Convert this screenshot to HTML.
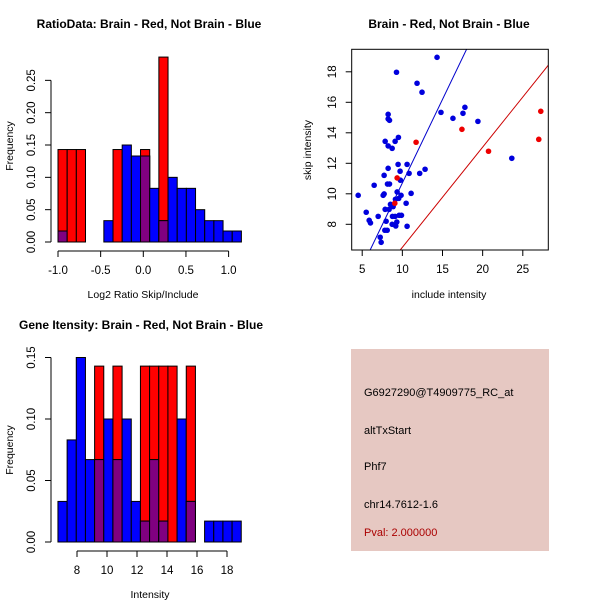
<!DOCTYPE html>
<html><head><meta charset="utf-8"><style>
body{margin:0;background:#fff}
svg{display:block;font-family:"Liberation Sans",sans-serif}
</style></head><body>
<svg id="c" width="600" height="600" viewBox="0 0 600 600">
<rect width="600" height="600" fill="#fff"/>
</svg>
<script>
// Panel 1: ratio histogram (20 bins starting at -1.0)
const ratioBinStart = -1.0, ratioBinWidth = 0.1075;
const ratioRed = [0.143,0.143,0.143,0,0,0,0.143,0,0,0.143,0,0.286,0,0,0,0,0,0,0,0];
const ratioBlue = [0.017,0,0,0,0,0.033,0,0.15,0.133,0.133,0.083,0.033,0.1,0.083,0.083,0.05,0.033,0.033,0.017,0.017];
const ratioXTicks = [-1.0,-0.5,0.0,0.5,1.0];
const ratioXLabels = ["-1.0","-0.5","0.0","0.5","1.0"];
const ratioYTicks = [0,0.05,0.1,0.15,0.2,0.25];
const ratioYLabels = ["0.00","0.05","0.10","0.15","0.20","0.25"];
// Panel 3: intensity histogram
const intBinStart = 6.73, intBinWidth = 0.611;
const intRed = [0,0,0,0,0.143,0,0.143,0,0,0.143,0.143,0.143,0.143,0,0.143,0,0,0,0,0];
const intBlue = [0.033,0.083,0.15,0.067,0.067,0.1,0.067,0.1,0.033,0.017,0.067,0.017,0,0.1,0.033,0,0.017,0.017,0.017,0.017];
const intXTicks = [8,10,12,14,16,18];
const intXLabels = ["8","10","12","14","16","18"];
const intYTicks = [0,0.05,0.1,0.15];
const intYLabels = ["0.00","0.05","0.10","0.15"];
// Panel 2: scatter
const blueX = [14.32,9.27,11.83,12.45,14.81,17.79,17.55,16.30,19.41,8.23,8.23,8.40,7.86,9.10,9.51,8.23,8.73,23.63,9.47,10.59,8.23,12.83,9.72,12.16,10.84,7.73,9.76,8.15,8.40,6.49,4.50,7.61,7.73,9.35,9.84,11.09,9.55,9.14,10.47,8.52,8.85,7.86,8.35,5.50,6.99,8.77,9.10,9.60,9.89,5.87,6.03,7.98,8.73,9.31,9.18,10.59,7.82,8.11,7.24,7.36];
const blueY = [18.95,17.97,17.25,16.66,15.34,15.67,15.28,14.95,14.75,15.21,14.91,14.82,13.44,13.44,13.70,13.14,12.98,12.33,11.93,11.93,11.67,11.61,11.48,11.34,11.34,11.21,10.89,10.64,10.64,10.56,9.90,9.90,9.99,10.12,9.90,10.03,9.70,9.64,9.38,9.31,9.16,8.98,8.98,8.79,8.52,8.52,8.52,8.59,8.59,8.26,8.09,8.20,8.00,8.15,7.89,7.87,7.61,7.61,7.15,6.82];
const redX = [11.71,17.42,20.73,27.24,26.99,9.35,9.06];
const redY = [13.38,14.23,12.79,15.41,13.57,11.04,9.38];
const blueLine = [-0.25,1.096]; // intercept, slope
const redLine = [-0.08,0.657];
const scXTicks = [5,10,15,20,25];
const scYTicks = [8,10,12,14,16,18];
const infoLines = ["G6927290@T4909775_RC_at","altTxStart","Phf7","chr14.7612-1.6"];
const pvalText = "Pval: 2.000000";

const NS="http://www.w3.org/2000/svg";
const svg=document.getElementById('c');
function el(tag,attrs,parent,text){const e=document.createElementNS(NS,tag);for(const k in attrs)e.setAttribute(k,attrs[k]);if(text!==undefined)e.textContent=text;(parent||svg).appendChild(e);return e;}

function hist(o){
  const g=el('g',{});
  
  
  const sx=v=>o.x0px+(v-o.xv0)*o.xs, sy=v=>o.y0px-v*o.ys;
  for(let i=0;i<o.red.length;i++){
    const a=o.binStart+i*o.binW,b=a+o.binW,r=o.red[i],bl=o.blue[i];
    const x=sx(a),w=sx(b)-sx(a);
    if(r>0){const e=el('rect',{x:x,y:sy(r),width:w,height:sy(0)-sy(r),fill:'#ff0000',stroke:'#000','stroke-width':1},g);
      }
    if(bl>0){const ov=Math.min(r,bl);
      const e=el('rect',{x:x,y:sy(bl),width:w,height:sy(0)-sy(bl),fill:'#0000ff',stroke:'#000','stroke-width':1},g);
      
      if(ov>0){const p=el('rect',{x:x,y:sy(ov),width:w,height:sy(0)-sy(ov),fill:'#800080',stroke:'#000','stroke-width':1},g);
        }
    }
  }
  const xa=el('g',{},g);
  const ty=o.y0px+9;
  el('line',{x1:sx(o.xt[0]),x2:sx(o.xt[o.xt.length-1]),y1:ty,y2:ty,stroke:'#000'},xa);
  o.xt.forEach((t,i)=>{el('line',{x1:sx(t),x2:sx(t),y1:ty,y2:ty+6,stroke:'#000'},xa);
    const l=el('text',{x:sx(t),y:ty+23,'font-size':11.5,'text-anchor':'middle'},xa,o.xl[i]);
    });
  const ya=el('g',{},g);
  el('line',{x1:51,x2:51,y1:sy(o.yt[0]),y2:sy(o.yt[o.yt.length-1]),stroke:'#000'},ya);
  o.yt.forEach((t,i)=>{el('line',{x1:45,x2:51,y1:sy(t),y2:sy(t),stroke:'#000'},ya);
    const l=el('text',{x:35,y:sy(t),'font-size':11.5,'text-anchor':'middle',transform:`rotate(-90 35 ${sy(t)})`},ya,o.yl[i]);
    });
  const yt=el('text',{x:13,y:o.ymid,'font-size':10.5,'text-anchor':'middle',transform:`rotate(-90 13 ${o.ymid})`},g,'Frequency');
  
  const xt=el('text',{x:o.xmid,y:o.y0px+56,'font-size':10.5,'text-anchor':'middle'},g,o.xtitle);
  
  const tt=el('text',{x:o.tx,y:o.ty,'font-size':12,'font-weight':'bold','text-anchor':'middle'},g,o.title);
  
}
hist({name:'ratio-histogram',red:ratioRed,blue:ratioBlue,binStart:ratioBinStart,binW:ratioBinWidth,x0px:58,xv0:-1,xs:85.3,y0px:242,ys:646.6,
  xt:ratioXTicks,xl:ratioXLabels,yt:ratioYTicks,yl:ratioYLabels,ymid:146,xmid:143,xtitle:'Log2 Ratio Skip/Include',tx:149,ty:28,title:'RatioData: Brain - Red, Not Brain - Blue'});
hist({name:'intensity-histogram',red:intRed,blue:intBlue,binStart:intBinStart,binW:intBinWidth,x0px:77,xv0:8,xs:15,y0px:542,ys:1230,
  xt:intXTicks,xl:intXLabels,yt:intYTicks,yl:intYLabels,ymid:450,xmid:150,xtitle:'Intensity',tx:141,ty:329,title:'Gene Itensity: Brain - Red, Not Brain - Blue'});

// scatter
(function(){
  const g=el('g',{});
  const L=351.7,R=548.3,T=49.3,B=250;
  const sx=v=>362.2+(v-5)*8.03, sy=v=>224.3-(v-8)*15.25;
  const cp=el('clipPath',{id:'cp'},g);
  el('rect',{x:L,y:T,width:R-L,height:B-T},cp);
  const xv0=(L-362.2)/8.03+5, xv1=(R-362.2)/8.03+5;
  [[blueLine,'#0000cc','blue-fit-line'],[redLine,'#cc0000','red-diagonal-line']].forEach(([ln,c,n])=>{
    const e=el('line',{x1:sx(xv0),y1:sy(ln[0]+ln[1]*xv0),x2:sx(xv1),y2:sy(ln[0]+ln[1]*xv1),stroke:c,'stroke-width':1,'clip-path':'url(#cp)'},g);
    });
  blueX.forEach((x,i)=>{const e=el('circle',{cx:sx(x),cy:sy(blueY[i]),r:2.8,fill:'#0000dd'},g);
    });
  redX.forEach((x,i)=>{const e=el('circle',{cx:sx(x),cy:sy(redY[i]),r:2.8,fill:'#ee0000'},g);
    });
  const f=el('rect',{x:L,y:T,width:R-L,height:B-T,fill:'none',stroke:'#000'},g);
  
  scXTicks.forEach(t=>{el('line',{x1:sx(t),x2:sx(t),y1:B,y2:B+6,stroke:'#000'},g);
    const l=el('text',{x:sx(t),y:B+23,'font-size':11.5,'text-anchor':'middle'},g,String(t));
    });
  scYTicks.forEach(t=>{el('line',{x1:L-6,x2:L,y1:sy(t),y2:sy(t),stroke:'#000'},g);
    const l=el('text',{x:336,y:sy(t),'font-size':11.5,'text-anchor':'middle',transform:`rotate(-90 336 ${sy(t)})`},g,String(t));
    });
  const xt=el('text',{x:449,y:298,'font-size':10.5,'text-anchor':'middle'},g,'include intensity');
  
  const yt=el('text',{x:311,y:150,'font-size':10.5,'text-anchor':'middle',transform:'rotate(-90 311 150)'},g,'skip intensity');
  
  const tt=el('text',{x:449,y:28,'font-size':12,'font-weight':'bold','text-anchor':'middle'},g,'Brain - Red, Not Brain - Blue');
  
})();

// info panel
(function(){
  const g=el('g',{});
  el('rect',{x:351,y:349,width:198,height:202,fill:'#e6c8c2'},g);
  const ys=[396,434,470,508];
  infoLines.forEach((t,i)=>{const e=el('text',{x:364,y:ys[i],'font-size':11},g,t);
    });
  const p=el('text',{x:364,y:536,'font-size':11,fill:'#aa0000'},g,pvalText);
  
})();
</script>
</body></html>
